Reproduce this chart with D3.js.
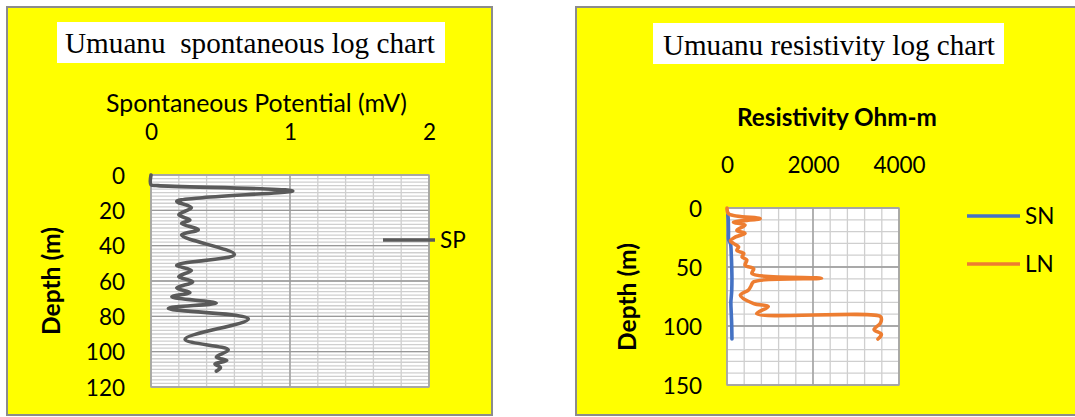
<!DOCTYPE html>
<html>
<head>
<meta charset="utf-8">
<script src="https://cdn.jsdelivr.net/npm/d3@7"></script>
<style>
  body { margin: 0; background: #ffffff; }
  #viz_container { width: 1075px; height: 417px; }
  text { font-family: Lato, "Open Sans", sans-serif; fill: #000; }
</style>
</head>
<body>
<div id="viz_container"></div>
<script>
// Spontaneous potential log (depth in m, value in mV)
const spDepth = [0, 5.5, 6, 9, 13, 15, 18.5, 22.5, 25.5, 27.5, 31, 34, 45, 51, 54, 57.5, 60.5, 64, 66.5, 69, 72.5, 75.5, 81.5, 93, 99, 103, 105, 107, 109, 111];
const spValue = [0, 0, 0.05, 1.02, 0.35, 0.185, 0.29, 0.2, 0.28, 0.22, 0.34, 0.22, 0.6, 0.185, 0.29, 0.2, 0.3, 0.185, 0.28, 0.15, 0.47, 0.125, 0.7, 0.245, 0.556, 0.47, 0.545, 0.46, 0.5, 0.47];

// Resistivity log, long normal (LN) and short normal (SN), Ohm-m
const lnDepth = [0, 5, 9, 12, 14.5, 19, 21.5, 24.5, 28, 30, 33, 36, 38.5, 41.5, 44, 48.5, 51.5, 55.5, 59.5, 62.5, 66, 69.5, 74, 81, 83.5, 89.5, 92, 95, 98, 103, 107, 111];
const lnValue = [0, 40, 770, 150, 420, 230, 420, 200, 80, 150, 270, 230, 390, 350, 460, 420, 620, 580, 2200, 620, 560, 500, 310, 620, 960, 690, 3570, 3590, 3560, 3420, 3590, 3510];
const snDepth = [6, 10, 20, 27, 30, 40, 50, 60, 70, 75, 80, 90, 100, 111];
const snValue = [20, 30, 35, 40, 80, 100, 110, 115, 110, 100, 90, 100, 110, 115];

// Tick labels
const spXTicks = [0, 1, 2];
const spYTicks = [0, 20, 40, 60, 80, 100, 120];
const resXTicks = [0, 2000, 4000];
const resYTicks = [0, 50, 100, 150];

const width = 1075;
const height = 417;

const svg = d3
  .select("#viz_container")
  .append("svg")
  .attr("width", width)
  .attr("height", height)
  .attr("viewBox", `0 0 ${width} ${height}`);

// shrink/grow a text element so it spans a given width
function fitText(sel, targetWidth) {
  const fs = parseFloat(sel.attr("font-size"));
  const w = sel.node().getComputedTextLength();
  sel.attr("font-size", (fs * targetWidth) / w);
}

function drawPanel(cfg) {
  const g = svg.append("g");

  // yellow frame
  g.append("rect")
    .attr("x", cfg.frame[0])
    .attr("y", cfg.frame[1])
    .attr("width", cfg.frame[2])
    .attr("height", cfg.frame[3])
    .attr("fill", "#ffff00")
    .attr("stroke", "#8c8c8c")
    .attr("stroke-width", 2);

  // white title box
  g.append("rect")
    .attr("x", cfg.titleBox[0])
    .attr("y", cfg.titleBox[1])
    .attr("width", cfg.titleBox[2])
    .attr("height", cfg.titleBox[3])
    .attr("fill", "#ffffff");
  const title = g
    .append("text")
    .attr("x", cfg.titleX)
    .attr("y", cfg.titleY)
    .attr("font-size", 28)
    .style("font-family", "'Liberation Serif', 'Times New Roman', serif")
    .style("white-space", "pre")
    .attr("xml:space", "preserve")
    .text(cfg.title);
  fitText(title, cfg.titleW);

  const x = d3.scaleLinear().domain(cfg.xDomain).range([cfg.plot[0], cfg.plot[1]]);
  const y = d3.scaleLinear().domain(cfg.yDomain).range([cfg.plot[2], cfg.plot[3]]);

  // plot area
  g.append("rect")
    .attr("x", cfg.plot[0])
    .attr("y", cfg.plot[2])
    .attr("width", cfg.plot[1] - cfg.plot[0])
    .attr("height", cfg.plot[3] - cfg.plot[2])
    .attr("fill", "#ffffff");

  const grid = g.append("g");
  grid.selectAll(".vminor")
    .data(cfg.xMinor)
    .enter()
    .append("line")
    .attr("x1", (d) => x(d))
    .attr("x2", (d) => x(d))
    .attr("y1", cfg.plot[2])
    .attr("y2", cfg.plot[3])
    .attr("stroke", "#cfcfcf")
    .attr("stroke-width", 1.3);
  grid.selectAll(".hminor")
    .data(cfg.yMinor)
    .enter()
    .append("line")
    .attr("x1", cfg.plot[0])
    .attr("x2", cfg.plot[1])
    .attr("y1", (d) => y(d))
    .attr("y2", (d) => y(d))
    .attr("stroke", "#cfcfcf")
    .attr("stroke-width", 1.3);
  grid.selectAll(".vmajor")
    .data(cfg.xMajor)
    .enter()
    .append("line")
    .attr("x1", (d) => x(d))
    .attr("x2", (d) => x(d))
    .attr("y1", cfg.plot[2])
    .attr("y2", cfg.plot[3])
    .attr("stroke", "#999999")
    .attr("stroke-width", 1.3);
  grid.selectAll(".hmajor")
    .data(cfg.yMajor)
    .enter()
    .append("line")
    .attr("x1", cfg.plot[0])
    .attr("x2", cfg.plot[1])
    .attr("y1", (d) => y(d))
    .attr("y2", (d) => y(d))
    .attr("stroke", "#999999")
    .attr("stroke-width", 1.3);

  g.append("rect")
    .attr("x", cfg.plot[0])
    .attr("y", cfg.plot[2])
    .attr("width", cfg.plot[1] - cfg.plot[0])
    .attr("height", cfg.plot[3] - cfg.plot[2])
    .attr("fill", "none")
    .attr("stroke", "#a6a6a6")
    .attr("stroke-width", 1.3);

  // axes (labels only)
  const xAxis = g
    .append("g")
    .attr("transform", `translate(0,${cfg.xLabelY})`)
    .call(d3.axisTop(x).tickValues(cfg.xTicks).tickSize(0).tickPadding(0).tickFormat(d3.format("d")));
  xAxis.select(".domain").remove();
  xAxis.selectAll("text")
    .attr("y", 0)
    .attr("dy", "0.36em")
    .attr("font-size", 22.5)
    .style("font-family", "Lato, sans-serif");

  const yAxis = g
    .append("g")
    .attr("transform", `translate(${cfg.yLabelX},0)`)
    .call(d3.axisLeft(y).tickValues(cfg.yTicks).tickSize(0).tickPadding(0));
  yAxis.select(".domain").remove();
  yAxis.selectAll("text")
    .attr("dy", "0.36em")
    .attr("font-size", 22.5)
    .style("font-family", "Lato, sans-serif");

  // x axis title
  const xt = g
    .append("text")
    .attr("x", cfg.xTitle[0])
    .attr("y", cfg.xTitle[1])
    .attr("dy", "0.36em")
    .attr("text-anchor", "middle")
    .attr("font-size", 22)
    .attr("font-weight", cfg.xTitleBold ? "bold" : "normal")
    .text(cfg.xTitleText);
  fitText(xt, cfg.xTitle[2]);

  // y axis title
  const yt = g
    .append("text")
    .attr("transform", `translate(${cfg.yTitle[0]},${cfg.yTitle[1]}) rotate(-90)`)
    .attr("dy", "0.36em")
    .attr("text-anchor", "middle")
    .attr("font-size", 22)
    .attr("font-weight", "bold")
    .text("Depth (m)");
  fitText(yt, cfg.yTitle[2]);

  // series
  const lineGen = d3
    .line()
    .x((d) => x(d[1]))
    .y((d) => y(d[0]))
    .curve(d3.curveCatmullRom.alpha(0.5));

  const lines = g.append("g");
  cfg.series.forEach((s, i) => {
    const pts = d3.zip(s.depth, s.value);
    lines.append("path")
      .datum(pts)
      .attr("fill", "none")
      .attr("stroke", s.color)
      .attr("stroke-width", 3.6)
      .attr("stroke-linejoin", "round")
      .attr("stroke-linecap", "round")
      .attr("d", lineGen);

    // legend
    const ly = cfg.legend[1] + i * cfg.legend[3];
    g.append("line")
      .attr("x1", cfg.legend[0])
      .attr("x2", cfg.legend[0] + cfg.legend[2])
      .attr("y1", ly)
      .attr("y2", ly)
      .attr("stroke", s.color)
      .attr("stroke-width", 3.6);
    g.append("text")
      .attr("x", cfg.legend[0] + cfg.legend[2] + 5)
      .attr("y", ly)
      .attr("dy", "0.36em")
      .attr("font-size", 22.5)
      .text(s.name);
  });
}

// left panel: spontaneous potential
drawPanel({
  frame: [7, 7, 485, 408],
  titleBox: [57, 22, 388, 41],
  title: "Umuanu  spontaneous log chart",
  titleX: 65,
  titleY: 53,
  titleW: 370,
  plot: [151, 429, 175, 387],
  xDomain: [0, 2],
  yDomain: [0, 120],
  xMinor: d3.range(0, 2.01, 0.2),
  yMinor: d3.range(0, 121, 2),
  xMajor: spXTicks,
  yMajor: spYTicks,
  xTicks: spXTicks,
  yTicks: spYTicks,
  xLabelY: 132,
  yLabelX: 125,
  xTitleText: "Spontaneous Potential (mV)",
  xTitleBold: false,
  xTitle: [256.5, 103, 301],
  yTitle: [51, 281, 108],
  legend: [383, 240, 52, 48],
  series: [{ name: "SP", depth: spDepth, value: spValue, color: "#5a5a5a" }],
});

// right panel: resistivity
drawPanel({
  frame: [576, 7, 510, 408],
  titleBox: [653, 23, 351, 41],
  title: "Umuanu resistivity log chart",
  titleX: 663,
  titleY: 55,
  titleW: 332,
  plot: [727, 899, 208, 385],
  xDomain: [0, 4000],
  yDomain: [0, 150],
  xMinor: d3.range(0, 4001, 400),
  yMinor: d3.range(0, 151, 10),
  xMajor: [0, 2000, 4000],
  yMajor: resYTicks,
  xTicks: resXTicks,
  yTicks: resYTicks,
  xLabelY: 165,
  yLabelX: 702,
  xTitleText: "Resistivity Ohm-m",
  xTitleBold: true,
  xTitle: [837, 117, 200],
  yTitle: [627, 297, 108],
  legend: [967, 216, 53, 48],
  series: [
    { name: "SN", depth: snDepth, value: snValue, color: "#4472c4" },
    { name: "LN", depth: lnDepth, value: lnValue, color: "#ed7d31" },
  ],
});
</script>
</body>
</html>
